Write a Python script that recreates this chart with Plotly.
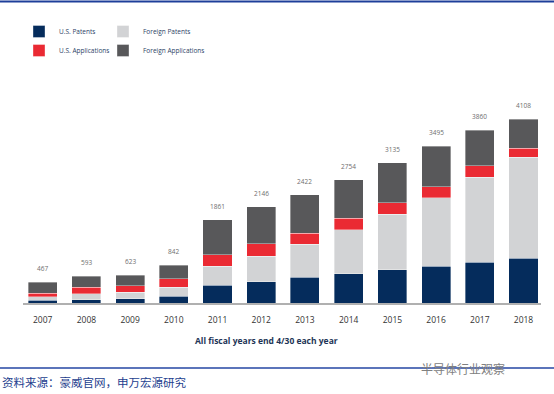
import plotly.graph_objects as go

years = ["2007", "2008", "2009", "2010", "2011", "2012", "2013", "2014", "2015", "2016", "2017", "2018"]
us_patents = [67, 74, 96, 156, 395, 469, 574, 654, 744, 817, 907, 1004]
foreign_patents = [74, 134, 149, 201, 424, 580, 737, 982, 1243, 1534, 1905, 2254]
us_applications = [82, 149, 141, 179, 261, 275, 246, 253, 246, 246, 253, 194]
foreign_applications = [244, 236, 237, 306, 781, 822, 865, 865, 902, 898, 795, 656]
totals = [467, 593, 623, 842, 1861, 2146, 2422, 2754, 3135, 3495, 3860, 4108]

W, H = 554, 394
L, R, T, B = 23, 13, 70, 91  # plot area px
PW, PH = W - L - R, H - T - B


def px(x):
    return (x - L) / PW


def py(y):
    return (H - B - y) / PH


NAVY = "#052c5c"
RED = "#ea2a33"
LGRAY = "#d2d3d5"
DGRAY = "#58585a"
TXT = "#2b3f66"

fig = go.Figure()
line = dict(color="rgba(255,255,255,0.6)", width=0.6)
fig.add_bar(x=years, y=us_patents, name="U.S. Patents", marker=dict(color=NAVY, line=line), legend="legend", legendrank=1)
fig.add_bar(x=years, y=foreign_patents, name="Foreign Patents", marker=dict(color=LGRAY, line=line), legend="legend2", legendrank=1)
fig.add_bar(x=years, y=us_applications, name="U.S. Applications", marker=dict(color=RED, line=line), legend="legend", legendrank=2)
fig.add_bar(x=years, y=foreign_applications, name="Foreign Applications", marker=dict(color=DGRAY, line=line), legend="legend2", legendrank=2)

annotations = []
for i, tot in enumerate(totals):
    annotations.append(dict(x=i, y=tot, xref="x", yref="y", text=str(tot), showarrow=False,
                            yanchor="bottom", yshift=7, font=dict(family="Open Sans", size=6.5, color="#6e6e6e")))

annotations.append(dict(x=px(266), y=py(340), xref="paper", yref="paper", text="<b>All fiscal years end 4/30 each year</b>",
                        showarrow=False, xanchor="center", yanchor="middle",
                        font=dict(family="Open Sans", size=8.5, color="#1e3556")))
annotations.append(dict(x=px(0), y=py(382), xref="paper", yref="paper", text="资料来源：豪威官网，申万宏源研究",
                        showarrow=False, xanchor="left", yanchor="middle",
                        font=dict(family="Noto Sans CJK SC", size=11.5, color="#23408e")))
annotations.append(dict(x=px(419), y=py(368), xref="paper", yref="paper", text="半导体行业观察",
                        showarrow=False, xanchor="left", yanchor="middle", bgcolor="rgba(255,255,255,0.0)",
                        font=dict(family="Noto Sans CJK SC", size=12, color="#808080")))

shapes = [
    dict(type="line", xref="paper", yref="paper", x0=px(0), x1=px(W), y0=py(1.5), y1=py(1.5),
         line=dict(color="#1e3f9a", width=2)),
    dict(type="line", xref="paper", yref="paper", x0=px(0), x1=px(W), y0=py(368), y1=py(368),
         line=dict(color="#2446a3", width=1.5)),
]

legend_common = dict(orientation="v", xref="container", yref="container", xanchor="left", yanchor="top",
                     font=dict(family="Open Sans", size=6.5, color=TXT), bgcolor="rgba(0,0,0,0)",
                     traceorder="normal", itemclick=False, itemdoubleclick=False)

fig.update_layout(
    width=W, height=H,
    margin=dict(l=L, r=R, t=T, b=B, autoexpand=False),
    paper_bgcolor="white", plot_bgcolor="white",
    barmode="stack", bargap=0.335,
    showlegend=True,
    legend=dict(x=(39 - 20) / W, y=1 - 17 / H, **legend_common),
    legend2=dict(x=(123 - 20) / W, y=1 - 17 / H, **legend_common),
    xaxis=dict(type="category", range=[-0.45, 11.4], showgrid=False, zeroline=False, showline=True,
               linecolor="#b0b0b0", linewidth=1.5,
               ticks="", tickfont=dict(family="Open Sans", size=8.5, color="#333333"), ticklabelstandoff=8,
               fixedrange=True),
    yaxis=dict(range=[0, (H - B - T) / 0.04479], visible=False, showgrid=False, fixedrange=True),
    annotations=annotations,
    shapes=shapes,
)

fig.write_html("out.html", config={"displayModeBar": False},
               post_script="document.body.style.margin='0';document.body.style.padding='0';")
